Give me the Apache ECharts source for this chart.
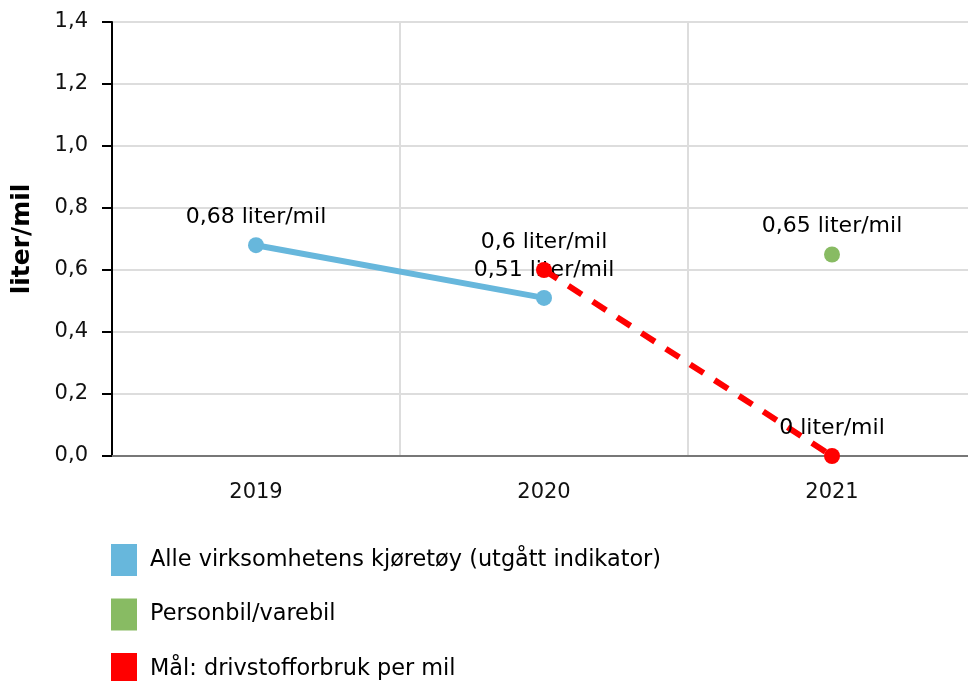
<!DOCTYPE html>
<html>
<head>
<meta charset="utf-8">
<script src="https://cdn.jsdelivr.net/npm/echarts@6/dist/echarts.min.js"></script>
<style>html,body{margin:0;padding:0;background:#fff}#c{width:968px;height:681px}</style>
</head>
<body>
<div id="c"></div>
<script>
const categories = ['2019', '2020', '2021'];
const seriesNames = ['Alle virksomhetens kjøretøy (utgått indikator)', 'Personbil/varebil', 'Mål: drivstofforbruk per mil'];
const alleValues = [0.68, 0.51, null];
const personbilValues = [null, null, 0.65];
const maalValues = [null, 0.6, 0];
const yAxisName = 'liter/mil';
const unit = ' liter/mil';

const font = 'DejaVu Sans, Verdana, sans-serif';
const fmtNum = v => String(v).replace('.', ',');
const labelFmt = p => fmtNum(p.value) + unit;
const lbl = {show: true, position: 'top', distance: 9, formatter: labelFmt, color: '#000', fontSize: 22, fontFamily: font};

const chart = echarts.init(document.getElementById('c'));
chart.setOption({
  animation: false,
  textStyle: {fontFamily: font},
  grid: {left: 112, width: 864, top: 22, bottom: 225, containLabel: false, outerBoundsMode: 'none'},
  legend: {
    orient: 'vertical', left: 106, top: 539, height: 200, itemWidth: 26, itemHeight: 32, itemGap: 22.5,
    icon: 'rect',
    textStyle: {fontSize: 22.4, color: '#000', fontFamily: font, padding: [0, 0, 0, 8]},
    data: seriesNames
  },
  xAxis: {
    type: 'category', data: categories,
    axisLine: {lineStyle: {color: '#777', width: 2}},
    axisTick: {alignWithLabel: true, length: 8, lineStyle: {color: '#ccc', width: 2}},
    axisLabel: {fontSize: 21, color: '#111', margin: 26, fontFamily: font},
    splitLine: {show: true, lineStyle: {color: '#ddd', width: 2}}
  },
  yAxis: {
    type: 'value', min: 0, max: 1.4, interval: 0.2,
    name: yAxisName, nameLocation: 'middle', nameGap: 77, nameRotate: 90,
    nameTextStyle: {fontSize: 25, fontWeight: 'bold', color: '#000', fontFamily: font},
    axisLine: {show: true, lineStyle: {color: '#000', width: 2}},
    axisTick: {show: true, length: 10, lineStyle: {color: '#000', width: 2}},
    axisLabel: {fontSize: 21, color: '#111', margin: 24, fontFamily: font, formatter: v => v.toFixed(1).replace('.', ',')},
    splitLine: {lineStyle: {color: '#ddd', width: 2}}
  },
  series: [
    {name: seriesNames[0], type: 'line', data: alleValues, z: 2, symbol: 'circle', symbolSize: 16,
      itemStyle: {color: '#67b7dc'}, lineStyle: {width: 6, color: '#67b7dc'}, label: lbl},
    {name: seriesNames[1], type: 'line', data: personbilValues, z: 2, symbol: 'circle', symbolSize: 16,
      itemStyle: {color: '#88bb63'}, lineStyle: {width: 0}, label: lbl},
    {name: seriesNames[2], type: 'line', data: maalValues, z: 5, symbol: 'circle', symbolSize: 16,
      itemStyle: {color: '#ff0000'}, lineStyle: {width: 6, color: '#ff0000', type: [16, 13]}, label: lbl}
  ]
});
</script>
</body>
</html>
